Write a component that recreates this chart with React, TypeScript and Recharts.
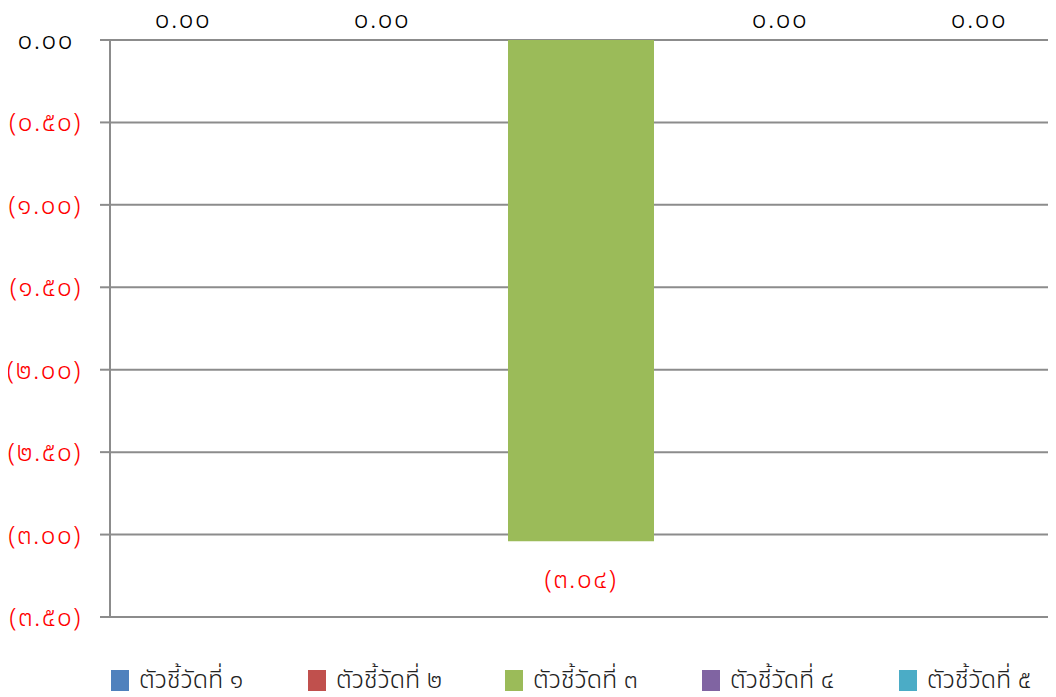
import React from "react";
import { Bar, BarChart, CartesianGrid, LabelList, Legend, XAxis, YAxis } from "recharts";

const categories = [""];
const seriesNames = ["ตัวชี้วัดที่ ๑", "ตัวชี้วัดที่ ๒", "ตัวชี้วัดที่ ๓", "ตัวชี้วัดที่ ๔", "ตัวชี้วัดที่ ๕"];
const seriesKeys = ["s1", "s2", "s3", "s4", "s5"];
const seriesValues = [0, 0, -3.04, 0, 0];
const seriesColors = ["#4F81BD", "#C0504D", "#9BBB59", "#8064A2", "#4BACC6"];
const yTicks = [0, -0.5, -1, -1.5, -2, -2.5, -3, -3.5];

const data = categories.map((name) => {
  const row: Record<string, string | number> = { name };
  seriesKeys.forEach((k, i) => (row[k] = seriesValues[i]));
  return row;
});

const FONT = "Tahoma, 'Noto Sans Thai', 'Noto Sans Thai Looped', 'DejaVu Sans', sans-serif";
const GRID = "#8c8c8c";

const thaiDigits = (s: string) => s.replace(/[0-9]/g, (d) => "๐๑๒๓๔๕๖๗๘๙"[Number(d)]);

// negatives in parentheses, red
const fmt = (v: number) => {
  const s = thaiDigits(Math.abs(v).toFixed(2));
  return v < 0 ? `(${s})` : s;
};

const YTick = (props: any) => {
  const { x, y, payload } = props;
  const v = payload.value as number;
  return (
    <text x={v < 0 ? x : x - 8} y={y} dy={9} textAnchor="end" fontFamily={FONT} fontSize={26}
      fontWeight={300} letterSpacing={1.5} fill={v < 0 ? "#ff0000" : "#000"}>
      {fmt(v)}
    </text>
  );
};

const ValueLabel = (props: any) => {
  const { x, y, width, height, value } = props;
  const top = Math.min(y, y + height);
  const bottom = Math.max(y, y + height);
  const cx = x + width / 2;
  const neg = value < 0;
  return (
    <text x={cx} y={neg ? bottom + 47 : top - 12} textAnchor="middle" fontFamily={FONT}
      fontSize={26} fontWeight={300} letterSpacing={1.5} fill={neg ? "#ff0000" : "#000"}>
      {fmt(value)}
    </text>
  );
};

const LegendBox = () => (
  <div style={{ display: "flex", paddingTop: 48, paddingLeft: 103, height: 30, fontFamily: FONT }}>
    {seriesNames.map((n, i) => (
      <div key={n} style={{ width: 197, flexShrink: 0, display: "flex", alignItems: "center" }}>
        <span style={{ width: 18, height: 21, background: seriesColors[i], marginRight: 10 }} />
        <span style={{ fontSize: 25, fontWeight: 300, color: "#222", whiteSpace: "nowrap" }}>{n}</span>
      </div>
    ))}
  </div>
);

export default function App() {
  return (
    <BarChart width={1048} height={689} data={data} barCategoryGap={0} barGap={53}
      margin={{ top: 32, right: 4, bottom: 2, left: 0 }} style={{ overflow: "visible" }}>
      <CartesianGrid horizontal vertical={false} stroke={GRID} strokeWidth={2} />
      <XAxis dataKey="name" hide />
      <YAxis width={102} domain={[-3.5, 0]} ticks={yTicks} interval={0} tickSize={10} tickMargin={18}
        axisLine={{ stroke: GRID, strokeWidth: 2 }} tickLine={{ stroke: GRID, strokeWidth: 2 }}
        tick={<YTick />} />
      <Legend verticalAlign="bottom" content={<LegendBox />} />
      {seriesKeys.map((k, i) => (
        <Bar key={k} dataKey={k} name={seriesNames[i]} fill={seriesColors[i]} minPointSize={0.01}
          isAnimationActive={false}>
          <LabelList dataKey={k} content={<ValueLabel />} />
        </Bar>
      ))}
    </BarChart>
  );
}
